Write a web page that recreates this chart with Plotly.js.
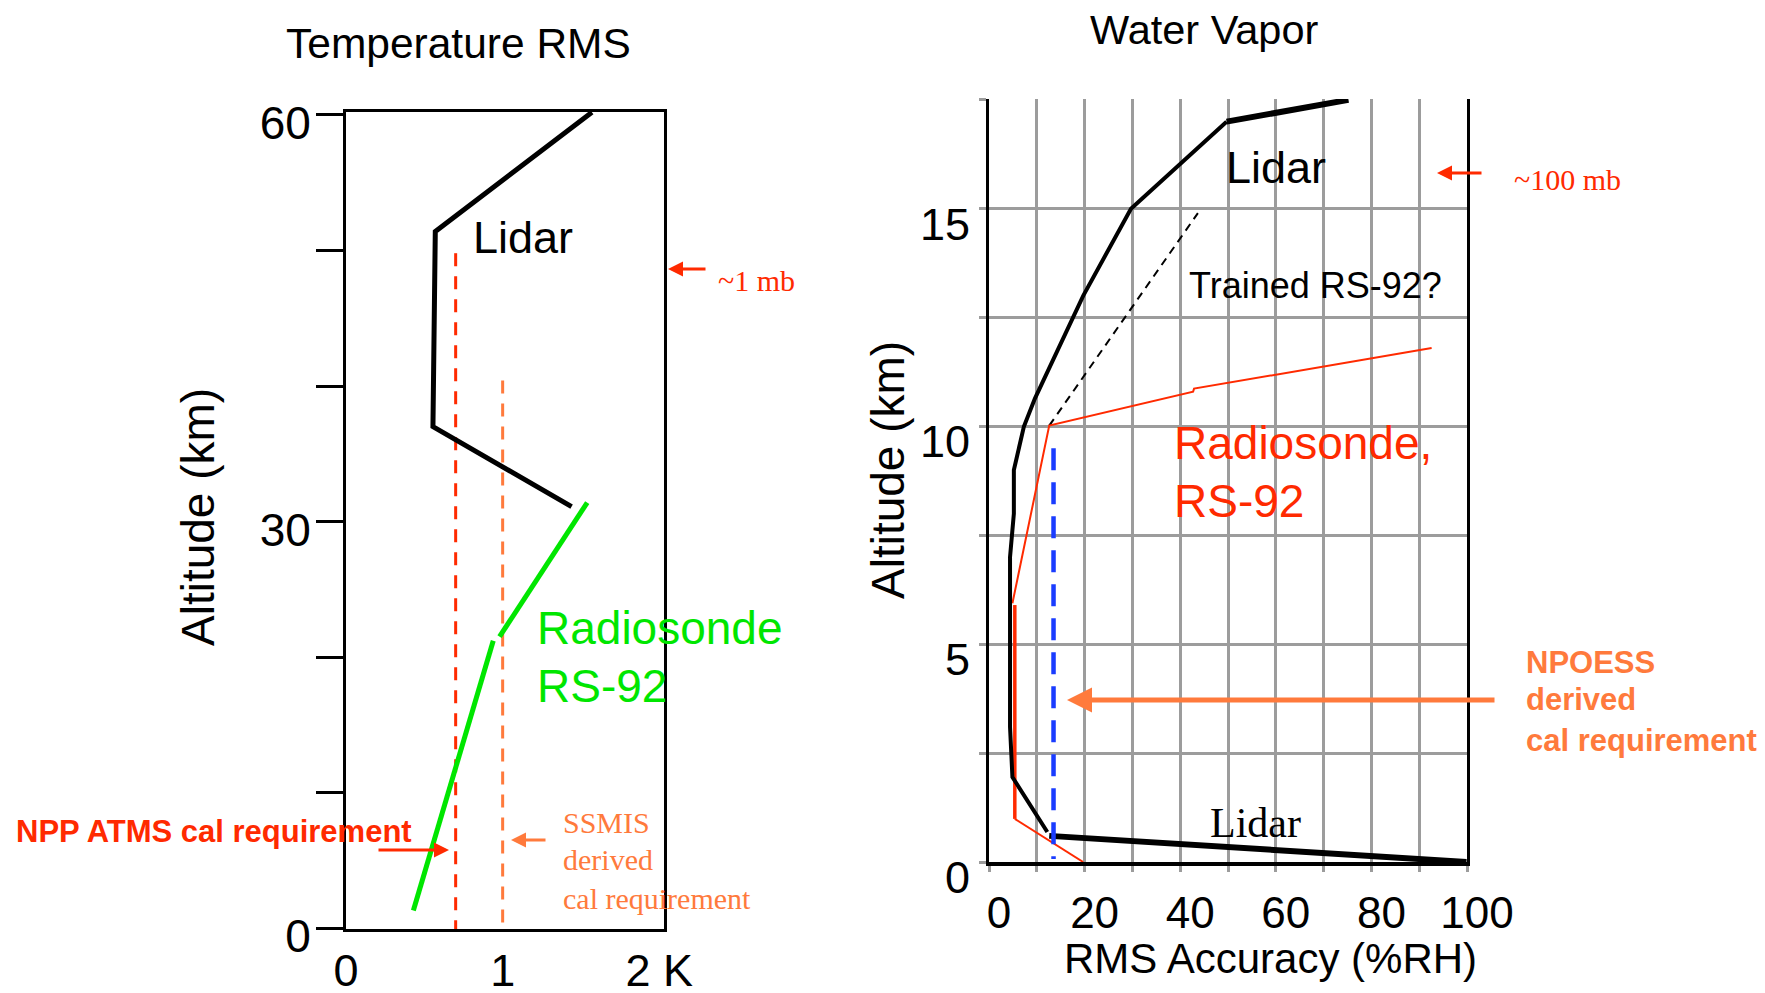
<!DOCTYPE html>
<html>
<head>
<meta charset="utf-8">
<script src="https://cdn.plot.ly/plotly-3.0.1.min.js"></script>
<style>html,body{margin:0;padding:0;background:#fff;}#chart{width:1765px;height:993px;}</style>
</head>
<body>
<div id="chart"></div>
<script>
// ---- Temperature RMS panel (x: K, y: km) ----
const tempLidarX = [1.57, 0.57, 0.555, 1.44];
const tempLidarY = [60.2, 51.4, 37.0, 31.1];
const tempRsX = [1.54, 0.98, null, 0.94, 0.43];
const tempRsY = [31.4, 21.5, null, 21.2, 1.3];
const atmsReqX = [0.70, 0.70];
const atmsReqY = [49.8, -0.4];
const ssmisReqX = [1.0, 1.0];
const ssmisReqY = [40.4, 0.2];
const tempTickVals = [0, 10, 20, 30, 40, 50, 60];
const tempTickText = ['0', '', '', '30', '', '', '60'];
const tempXTickVals = [0, 1, 2];
const tempXTickText = ['0', '1', '2 K'];

// ---- Water Vapor panel (x: %RH, y: km) ----
const wvLidarTopX = [49.7, 75.2];
const wvLidarTopY = [17.0, 17.5];
const wvLidarX = [49.7, 39.8, 29.7, 19.7, 9.6, 7.3, 5.2, 5.2, 4.4, 4.4, 4.9, 12.2];
const wvLidarY = [17.0, 16.0, 15.0, 13.0, 10.64, 10.0, 9.0, 8.0, 7.0, 3.1, 1.95, 0.69];
const wvLidarLowX = [12.6, 99.9];
const wvLidarLowY = [0.6, 0.0];
const trainedX = [12.6, 43.7];
const trainedY = [10.02, 14.9];
const wvRsX = [92.6, 42.9, 42.7, 12.6, 4.9];
const wvRsY = [11.8, 10.87, 10.8, 10.02, 5.94];
const wvRsMidX = [5.4, 5.4];
const wvRsMidY = [5.9, 0.99];
const wvRsLowX = [5.4, 19.7];
const wvRsLowY = [0.99, 0.0];
const npoessReqX = [13.5, 13.5];
const npoessReqY = [9.5, 0.07];

const W = 1765, H = 993;
const px = v => v / W;
const py = v => 1 - v / H;

const SANS = 'Liberation Sans, Arial, Helvetica, sans-serif';
const SERIF = 'Liberation Serif, Times New Roman, serif';
const RED = '#ff2a00';
const ORANGE = '#ff7a3c';
const GREEN = '#00e600';

const traces = [
  {x: atmsReqX, y: atmsReqY, xaxis: 'x', yaxis: 'y', mode: 'lines',
   line: {color: RED, width: 3, dash: '13px,10px'}},
  {x: ssmisReqX, y: ssmisReqY, xaxis: 'x', yaxis: 'y', mode: 'lines',
   line: {color: ORANGE, width: 3, dash: '13px,10px'}},
  {x: tempLidarX, y: tempLidarY, xaxis: 'x', yaxis: 'y', mode: 'lines',
   line: {color: '#000', width: 5}},
  {x: tempRsX, y: tempRsY, xaxis: 'x', yaxis: 'y', mode: 'lines', connectgaps: false,
   line: {color: GREEN, width: 5}},

  {x: trainedX, y: trainedY, xaxis: 'x2', yaxis: 'y2', mode: 'lines',
   line: {color: '#000', width: 2, dash: '8px,6px'}},
  {x: wvRsX, y: wvRsY, xaxis: 'x2', yaxis: 'y2', mode: 'lines',
   line: {color: RED, width: 2}},
  {x: wvRsMidX, y: wvRsMidY, xaxis: 'x2', yaxis: 'y2', mode: 'lines',
   line: {color: RED, width: 3.5}},
  {x: wvRsLowX, y: wvRsLowY, xaxis: 'x2', yaxis: 'y2', mode: 'lines',
   line: {color: RED, width: 2}},
  {x: wvLidarX, y: wvLidarY, xaxis: 'x2', yaxis: 'y2', mode: 'lines',
   line: {color: '#000', width: 4}},
  {x: wvLidarTopX, y: wvLidarTopY, xaxis: 'x2', yaxis: 'y2', mode: 'lines',
   line: {color: '#000', width: 6}},
  {x: wvLidarLowX, y: wvLidarLowY, xaxis: 'x2', yaxis: 'y2', mode: 'lines',
   line: {color: '#000', width: 6}},
  {x: npoessReqX, y: npoessReqY, xaxis: 'x2', yaxis: 'y2', mode: 'lines',
   line: {color: '#1a3cff', width: 4.5, dash: '22px,12px'}}
];

function txt(text, x, y, size, color, family, xanchor, extra) {
  return Object.assign({text: text, x: px(x), y: py(y), xref: 'paper', yref: 'paper',
    showarrow: false, xanchor: xanchor || 'center', yanchor: 'middle',
    font: {size: size, color: color, family: family || SANS}}, extra || {});
}
function arrow(x, y, ax, color, width) {
  return {text: '', x: px(x), y: py(y), xref: 'paper', yref: 'paper',
    showarrow: true, ax: ax, ay: 0, arrowhead: 2, arrowsize: 1,
    arrowwidth: width, arrowcolor: color, standoff: 0, startstandoff: 0};
}

const annotations = [
  txt('Temperature RMS', 458, 43, 42.5, '#000'),
  txt('Lidar', 523, 237, 45, '#000'),
  arrow(668, 269, 39, RED, 3),
  txt('~1 mb', 716, 280, 30, RED, SERIF, 'left'),
  txt('Radiosonde', 535, 628, 46, GREEN, SANS, 'left'),
  txt('RS-92', 535, 686, 46, GREEN, SANS, 'left'),
  txt('<b>NPP ATMS cal requirement</b>', 14, 831, 31, RED, SANS, 'left'),
  arrow(449, 850, -72, RED, 3),
  arrow(511, 840, 36, ORANGE, 3),
  txt('SSMIS', 561, 822, 30, ORANGE, SERIF, 'left'),
  txt('derived', 561, 859, 30, ORANGE, SERIF, 'left'),
  txt('cal requirement', 561, 898, 30, ORANGE, SERIF, 'left'),
  txt('Altitude (km)', 198, 517, 46, '#000', SANS, 'center', {textangle: -90}),

  txt('Water Vapor', 1204, 30, 41.5, '#000'),
  txt('Lidar', 1276, 167, 45, '#000'),
  txt('Trained RS-92?', 1315, 286, 36, '#000'),
  arrow(1437, 173, 46, RED, 3),
  txt('~100 mb', 1512, 179, 30, RED, SERIF, 'left'),
  txt('Radiosonde,', 1172, 443, 46, RED, SANS, 'left'),
  txt('RS-92', 1172, 501, 46, RED, SANS, 'left'),
  txt('<b>NPOESS</b>', 1524, 662, 31, ORANGE, SANS, 'left'),
  txt('<b>derived</b>', 1524, 699, 31, ORANGE, SANS, 'left'),
  txt('<b>cal requirement</b>', 1524, 740, 31, ORANGE, SANS, 'left'),
  arrow(1067, 700, 429, ORANGE, 5),
  txt('Lidar', 1255, 823, 42, '#000', SERIF),
  txt('Altitude (km)', 888, 470, 46, '#000', SANS, 'center', {textangle: -90}),
  txt('RMS Accuracy (%RH)', 1270, 958, 42, '#000')
];

const GRID = '#9c9c9c';
const layout = {
  width: W, height: H,
  margin: {l: 0, r: 0, t: 0, b: 0, pad: 0},
  paper_bgcolor: '#fff', plot_bgcolor: 'rgba(0,0,0,0)',
  showlegend: false,
  font: {family: SANS, color: '#000'},
  xaxis: {
    domain: [px(346), px(664)], range: [0, 2.03], anchor: 'y',
    tickmode: 'array', tickvals: tempXTickVals, ticktext: tempXTickText,
    ticks: '', showgrid: false, zeroline: false,
    showline: true, linecolor: '#000', linewidth: 3, mirror: true,
    tickfont: {size: 45, family: SANS, color: '#000'}, ticklabelstandoff: 0,
    ticklabelshift: 0,
    fixedrange: true
  },
  yaxis: {
    domain: [py(929), py(112)], range: [-0.07, 60.22], anchor: 'x',
    tickmode: 'array', tickvals: tempTickVals, ticktext: tempTickText,
    ticks: 'outside', ticklen: 27, tickwidth: 3, tickcolor: '#000',
    showgrid: false, zeroline: false,
    showline: true, linecolor: '#000', linewidth: 3, mirror: true,
    tickfont: {size: 46, family: SANS, color: '#000'}, ticklabelshift: 8,
    ticklabelstandoff: -4,
    fixedrange: true
  },
  xaxis2: {
    domain: [px(989), px(1467)], range: [0, 100], anchor: 'y2',
    tickmode: 'linear', tick0: 0, dtick: 20,
    ticks: 'outside', ticklen: 6, tickwidth: 3, tickcolor: GRID,
    showgrid: true, gridcolor: GRID, gridwidth: 3,
    minor: {dtick: 10, showgrid: true, gridcolor: GRID, gridwidth: 3,
            ticks: 'outside', ticklen: 6, tickwidth: 3, tickcolor: GRID},
    zeroline: false, showline: true, linecolor: '#000', linewidth: 4, mirror: false,
    tickfont: {size: 44, family: SANS, color: '#000'}, ticklabelshift: 10,
    ticklabelstandoff: 3,
    fixedrange: true
  },
  yaxis2: {
    domain: [py(862), py(99)], range: [0, 17.52], anchor: 'x2',
    tickmode: 'linear', tick0: 0, dtick: 5,
    ticks: 'outside', ticklen: 7, tickwidth: 3, tickcolor: GRID,
    showgrid: true, gridcolor: GRID, gridwidth: 3,
    minor: {dtick: 2.5, showgrid: true, gridcolor: GRID, gridwidth: 3,
            ticks: 'outside', ticklen: 7, tickwidth: 3, tickcolor: GRID},
    zeroline: false, showline: true, linecolor: '#000', linewidth: 3, mirror: true,
    tickfont: {size: 45, family: SANS, color: '#000'}, ticklabelshift: 15,
    fixedrange: true
  },
  annotations: annotations
};

Plotly.newPlot('chart', traces, layout, {displayModeBar: false, staticPlot: true});
</script>
</body>
</html>
